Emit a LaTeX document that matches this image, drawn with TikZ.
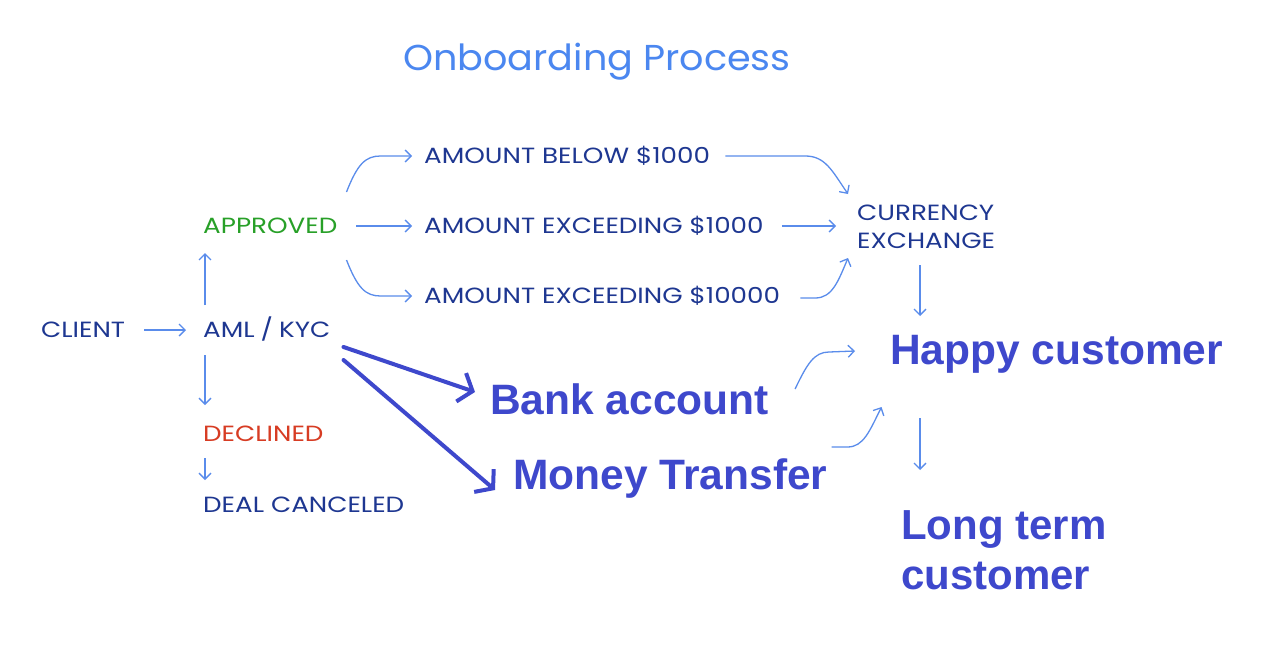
\documentclass[tikz,border=0pt]{standalone}
\usepackage{fontspec}
\setmainfont{Poppins}
\newfontfamily\widesans[FakeStretch=1.19]{Poppins}
\newfontfamily\titlesans[FakeStretch=1.06]{Poppins}
\newfontfamily\boldsans{Liberation Sans}
\usetikzlibrary{arrows.meta,calc}
\definecolor{navy}{RGB}{30,55,145}
\definecolor{lightb}{RGB}{90,140,235}
\definecolor{titleb}{RGB}{75,135,240}
\definecolor{okgreen}{RGB}{40,160,40}
\definecolor{nored}{RGB}{215,60,35}
\definecolor{bigb}{RGB}{62,72,204}
\tikzset{
  lbl/.style={anchor=west,inner sep=0pt,font=\widesans\fontsize{22}{28}\selectfont,text=navy,text height=15.5pt,text depth=0pt},
  big/.style={anchor=west,inner sep=0pt,font=\boldsans\bfseries\fontsize{42.5}{50}\selectfont,text=bigb},
  arr/.style={draw=lightb,line width=1.3pt,-{Straight Barb[length=6pt,width=12pt]}},
  thick arr/.style={draw=bigb,line width=4pt,line cap=round,-{Straight Barb[length=12pt,width=30pt,line width=4pt]}}
}
\begin{document}
\begin{tikzpicture}[x=1pt,y=-1pt]
\useasboundingbox (0,0) rectangle (1280,648);
\fill[white] (0,0) rectangle (1280,648);
\node[anchor=center,inner sep=0pt,font=\titlesans\fontsize{36}{40}\selectfont,text=titleb] (title) at (597,62) {Onboarding Process};
\node[lbl] (client) at (41,330) {CLIENT};
\node[lbl] (aml) at (203,330) {AML\hspace{6pt}/\hspace{6pt}KYC};
\node[lbl,text=okgreen] (approved) at (203,226) {APPROVED};
\node[lbl,text=nored] (declined) at (203,434) {DECLINED};
\node[lbl] (cancel) at (203,505) {DEAL CANCELED};
\node[lbl] (below) at (424,156) {AMOUNT BELOW \$1000};
\node[lbl] (exc1) at (424,226) {AMOUNT EXCEEDING \$1000};
\node[lbl] (exc2) at (424,296) {AMOUNT EXCEEDING \$10000};
\node[lbl,anchor=north west,align=left,text height=,text depth=] (cur) at (857,205) {CURRENCY\\EXCHANGE};
\node[big] (happy) at (890,354) {Happy customer};
\node[big] (bank) at (490,399) {Bank account};
\node[big] (money) at (513,479) {Money Transfer};
\node[big,anchor=north west,align=left,font=\boldsans\bfseries\fontsize{42}{50}\selectfont] (long) at (901,510) {Long term\\customer};
% connectors
\draw[arr] ($(client.east)+(19,0)$) -- ($(aml.west)+(-17,0)$);
\draw[arr] ($(aml.west)+(2,-25)$) -- ($(approved.west)+(2,27)$);
\draw[arr] ($(aml.west)+(2,25)$) -- ($(declined.west)+(2,-29)$);
\draw[arr] ($(declined.west)+(2,24)$) -- ($(cancel.west)+(2,-25)$);
\draw[arr] ($(approved.east)+(9,-34)$) .. controls ($(approved.east)+(20,-62)$) and ($(approved.east)+(28,-70)$) .. ($(approved.east)+(43,-70)$) -- ($(below.west)+(-12,0)$);
\draw[arr] ($(approved.east)+(19,0)$) -- ($(exc1.west)+(-12,0)$);
\draw[arr] ($(approved.east)+(9,34)$) .. controls ($(approved.east)+(20,62)$) and ($(approved.east)+(28,70)$) .. ($(approved.east)+(43,70)$) -- ($(exc2.west)+(-12,0)$);
\draw[arr] ($(below.east)+(15,0)$) -- ($(below.east)+(95,0)$) .. controls ($(below.east)+(115,0)$) and ($(below.east)+(122,15)$) .. ($(cur.north west)+(-9,-11)$);
\draw[arr] ($(exc1.east)+(18,0)$) -- ($(exc1.west)+(412,0)$);
\draw[arr] ($(exc2.east)+(20,2)$) -- ($(exc2.east)+(35,2)$) .. controls ($(exc2.east)+(52,2)$) and ($(exc2.east)+(58,-15)$) .. ($(cur.north west)+(-9,53)$);
\draw[arr] ($(cur.north west)+(63,60)$) -- ($(cur.north west)+(63,111)$);
\draw[arr] ($(bank.east)+(26,-10)$) .. controls ($(bank.east)+(38,-35)$) and ($(bank.east)+(45,-47)$) .. ($(bank.east)+(60,-47)$) -- ($(happy.west)+(-35,-3)$);
\draw[arr] ($(money.east)+(4,-32)$) -- ($(money.east)+(20,-32)$) .. controls ($(money.east)+(36,-32)$) and ($(money.east)+(42,-48)$) .. ($(money.east)+(54,-72)$);
\draw[arr] ($(happy.west)+(30,64)$) -- ($(happy.west)+(30,116)$);
\draw[thick arr] ($(aml.east)+(13,17)$) -- ($(bank.west)+(-15,-7)$);
\draw[thick arr] ($(aml.east)+(13,30)$) -- ($(money.west)+(-18,11)$);
\end{tikzpicture}
\end{document}
